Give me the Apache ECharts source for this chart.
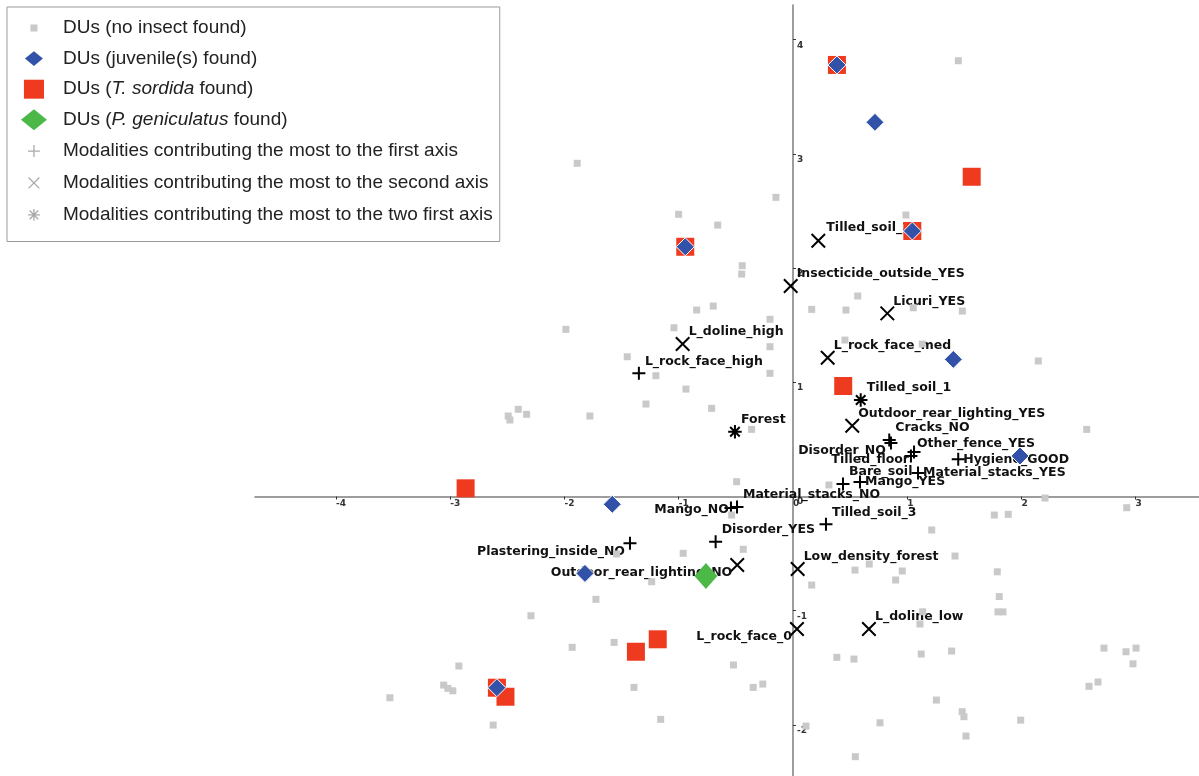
<!DOCTYPE html>
<html><head><meta charset="utf-8">
<script src="https://cdn.jsdelivr.net/npm/echarts@6/dist/echarts.min.js"></script>
<style>html,body{margin:0;padding:0;background:#fff}#c{width:1199px;height:776px}</style>
</head><body><div id="c"></div>
<script>
// ---------- data ----------
const noInsect = [[1.448,3.816],[-1.889,2.918],[-0.149,2.620],[-1.001,2.471],[0.989,2.465],[-0.659,2.377],[-0.444,2.021],[-0.449,1.948],[0.567,1.756],[0.164,1.639],[0.464,1.633],[1.053,1.653],[1.483,1.624],[-0.843,1.633],[-0.698,1.668],[-0.201,1.552],[-1.042,1.478],[-1.988,1.464],[-0.201,1.312],[0.455,1.370],[1.132,1.335],[-1.451,1.224],[2.148,1.187],[-1.200,1.058],[-0.201,1.079],[-0.937,0.941],[-1.287,0.810],[-0.712,0.772],[-2.493,0.705],[-2.478,0.670],[-2.405,0.764],[-2.332,0.720],[-1.778,0.705],[-0.362,0.588],[2.572,0.588],[-0.493,0.130],[0.315,0.101],[2.207,-0.013],[1.763,-0.162],[1.885,-0.156],[2.922,-0.098],[-0.537,-0.162],[1.215,-0.293],[-0.961,-0.497],[-0.435,-0.462],[-1.544,-0.503],[-1.237,-0.746],[-1.725,-0.900],[-2.294,-1.044],[0.164,-0.775],[0.543,-0.644],[0.668,-0.591],[0.899,-0.731],[0.957,-0.652],[1.419,-0.521],[1.789,-0.659],[1.806,-0.876],[1.795,-1.010],[1.839,-1.010],[1.136,-1.009],[1.112,-1.116],[-1.933,-1.320],[-1.566,-1.277],[-2.925,-1.484],[-3.058,-1.651],[-3.021,-1.680],[-2.978,-1.701],[-3.529,-1.762],[-2.625,-2.001],[-1.392,-1.671],[-1.158,-1.951],[-0.521,-1.475],[-0.348,-1.671],[-0.264,-1.642],[0.114,-2.010],[0.384,-1.408],[0.534,-1.423],[0.546,-2.278],[0.762,-1.981],[1.123,-1.379],[1.389,-1.353],[1.256,-1.782],[1.482,-1.884],[1.497,-1.928],[1.515,-2.097],[2.723,-1.327],[2.916,-1.359],[3.004,-1.327],[2.977,-1.465],[2.592,-1.662],[2.671,-1.624],[1.994,-1.958]];
const juvenile = [[0.385,3.779],[0.718,3.277],[-0.943,2.187],[1.045,2.325],[1.404,1.201],[1.988,0.355],[-1.582,-0.068],[-1.821,-0.673],[-2.592,-1.674]];
const tSordida = [[0.385,3.779],[1.565,2.800],[-0.943,2.187],[1.045,2.325],[0.440,0.968],[-2.866,0.072],[-1.375,-1.359],[-1.184,-1.250],[-2.592,-1.674],[-2.517,-1.753]];
const pGeniculatus = [[-0.762,-0.696]];

const firstAxisNames = ['L_rock_face_high','Cracks_NO','Disorder_NO','Other_fence_YES','Tilled_floor','Hygiene_GOOD','Bare_soil','Mango_YES','Material_stacks_YES','Material_stacks_NO','Mango_NO','Tilled_soil_3','Disorder_YES','Plastering_inside_NO'];
const firstAxisPts = [[-1.349,1.079],[0.843,0.495],[0.858,0.468],[1.033,0.355],[1.060,0.390],[1.447,0.326],[0.438,0.109],[0.587,0.127],[1.095,0.206],[-0.490,-0.092],[-0.543,-0.101],[0.289,-0.243],[-0.677,-0.396],[-1.427,-0.410]];
const secondAxisNames = ['Tilled_soil_2','Insecticide_outside_YES','Licuri_YES','L_doline_high','L_rock_face_med','Outdoor_rear_lighting_YES','Outdoor_rear_lighting_NO','Low_density_forest','L_rock_face_0','L_doline_low'];
const secondAxisPts = [[0.222,2.240],[-0.020,1.843],[0.826,1.604],[-0.966,1.335],[0.304,1.215],[0.519,0.620],[-0.488,-0.600],[0.041,-0.635],[0.035,-1.160],[0.665,-1.160]];
const bothAxesNames = ['Tilled_soil_1','Forest'];
const bothAxesPts = [[0.593,0.845],[-0.508,0.567]];

const seriesNames = ['DUs (no insect found)','DUs (juvenile(s) found)','DUs (T. sordida found)','DUs (P. geniculatus found)',
  'Modalities contributing the most to the first axis','Modalities contributing the most to the second axis','Modalities contributing the most to the two first axis'];

// ---------- layout / style ----------
const X_MIN = -4.71, X_MAX = 3.555, Y_MIN = -2.447, Y_MAX = 4.304;
const GRID = {left:255, right:0, top:5, bottom:0, w:944, h:771};
const labelSide = {
  'Disorder_NO':'l','Tilled_floor':'l','Plastering_inside_NO':'l','Outdoor_rear_lighting_NO':'l','L_rock_face_0':'l',
  'Mango_NO':'lc','Hygiene_GOOD':'r','Mango_YES':'r','Material_stacks_YES':'r','Tilled_soil_2':'ur2'
};
const OFF = { ur:{align:'left',dx:6,dy:-12}, ur2:{align:'left',dx:8,dy:-13}, l:{align:'right',dx:-5,dy:8}, lc:{align:'right',dx:-2,dy:2}, r:{align:'left',dx:5,dy:0} };
const LFONT = "'DejaVu Sans', sans-serif";
const TFONT = "'Liberation Sans', Arial, sans-serif";

// axis offsets so the axes cross at the origin (labels follow the axis lines)
const xAxisOffset = -(GRID.h * (0 - Y_MIN) / (Y_MAX - Y_MIN));
const yAxisOffset = -(GRID.w * (0 - X_MIN) / (X_MAX - X_MIN));

function modSeries(name, names, pts, symbol, size) {
  return {
    name, type:'scatter', z:2, symbol, symbolSize:size, silent:true,
    itemStyle:{color:'rgba(0,0,0,0)', borderColor:'#000', borderWidth:2, opacity:1},
    label:{show:true, position:'inside', formatter:p=>p.name, fontFamily:LFONT, fontWeight:'bold', fontSize:12.5, color:'#111'},
    data: names.map((n,i)=>{ const o = OFF[labelSide[n]||'ur']; return {name:n, value:pts[i], label:{align:o.align, verticalAlign:'middle', offset:[o.dx,o.dy]}}; })
  };
}

const P_PLUS = 'path://M0,12H24M12,0V24';
const P_X = 'path://M0,0L24,24M24,0L0,24';
const P_STAR = 'path://M0,12H24M12,0V24M3.5,3.5L20.5,20.5M20.5,3.5L3.5,20.5';

const option = {
  animation:false,
  grid:{left:GRID.left, right:GRID.right, top:GRID.top, bottom:GRID.bottom, containLabel:false, outerBoundsMode:'none'},
  xAxis:{type:'value', position:'bottom', offset:xAxisOffset, min:X_MIN, max:X_MAX, minInterval:1, maxInterval:1, splitLine:{show:false},
    axisLine:{onZero:false, lineStyle:{color:'#7c7c7c', width:1.5}},
    axisTick:{show:true, length:3, lineStyle:{color:'#333'}},
    axisLabel:{showMinLabel:false, showMaxLabel:false, align:'left', margin:3, fontFamily:LFONT, fontWeight:'bold', fontSize:9, color:'#333'}},
  yAxis:{type:'value', position:'left', offset:yAxisOffset, min:Y_MIN, max:Y_MAX, minInterval:1, maxInterval:1, splitLine:{show:false},
    axisLine:{onZero:false, lineStyle:{color:'#7c7c7c', width:1.5}},
    axisTick:{show:true, inside:true, length:3, lineStyle:{color:'#333'}},
    axisLabel:{inside:true, showMinLabel:false, showMaxLabel:false, margin:4, align:'left', verticalAlign:'top', padding:[1,0,0,0], fontFamily:LFONT, fontWeight:'bold', fontSize:9, color:'#333'}},
  legend:{
    orient:'vertical', left:7, top:7, padding:[8,7,13,13.3], itemWidth:48, itemHeight:26, itemGap:4.6,
    backgroundColor:'#fff', borderColor:'#9a9a9a', borderWidth:1, selectedMode:false,
    textStyle:{fontFamily:TFONT, fontSize:19, color:'#222', rich:{i:{fontFamily:TFONT, fontSize:19, color:'#222', fontStyle:'italic'}}},
    formatter:n => n.replace('T. sordida','{i|T. sordida}').replace('P. geniculatus','{i|P. geniculatus}'),
    data:[
      {name:seriesNames[0], icon:'path://M0,0M24,24M8.75,8.75h6.5v6.5h-6.5z'},
      {name:seriesNames[1], icon:'path://M0,0M24,24M3.7,12L12,5.1L20.3,12L12,18.9Z', itemStyle:{borderWidth:0}},
      {name:seriesNames[2], icon:'path://M0,0M24,24M2.75,3.25h18.5v17.5h-18.5z'},
      {name:seriesNames[3], icon:'path://M0,0M24,24M0,12L12,2.3L24,12L12,21.7Z'},
      {name:seriesNames[4], icon:'path://M0,0M24,24M6.5,12H17.5M12,6.5V17.5', itemStyle:{borderColor:'#aaa', borderWidth:1.3}},
      {name:seriesNames[5], icon:'path://M0,0M24,24M7,7L17,17M17,7L7,17', itemStyle:{borderColor:'#aaa', borderWidth:1.3}},
      {name:seriesNames[6], icon:'path://M0,0M24,24M6.5,12H17.5M12,6.5V17.5M8,8L16,16M16,8L8,16', itemStyle:{borderColor:'#aaa', borderWidth:1.3}}
    ]
  },
  series:[
    {name:seriesNames[0], type:'scatter', z:3, silent:true, symbol:'rect', symbolSize:7, itemStyle:{color:'#c9c9c9', opacity:1}, data:noInsect},
    {name:seriesNames[1], type:'scatter', z:5, silent:true, symbol:'diamond', symbolSize:18, itemStyle:{color:'#3152a8', borderColor:'#fff', borderWidth:1, opacity:1}, data:juvenile},
    {name:seriesNames[2], type:'scatter', z:4, silent:true, symbol:'rect', symbolSize:18, itemStyle:{color:'#ee3b1f', opacity:1}, data:tSordida},
    {name:seriesNames[3], type:'scatter', z:6, silent:true, symbol:'diamond', symbolSize:[23,26], itemStyle:{color:'#4cb848', opacity:1}, data:pGeniculatus},
    modSeries(seriesNames[4], firstAxisNames, firstAxisPts, P_PLUS, 13),
    modSeries(seriesNames[5], secondAxisNames, secondAxisPts, P_X, 13.5),
    modSeries(seriesNames[6], bothAxesNames, bothAxesPts, P_STAR, 13.5)
  ]
};
const chart = echarts.init(document.getElementById('c'), null, {renderer:'canvas'});
chart.setOption(option);
</script></body></html>
